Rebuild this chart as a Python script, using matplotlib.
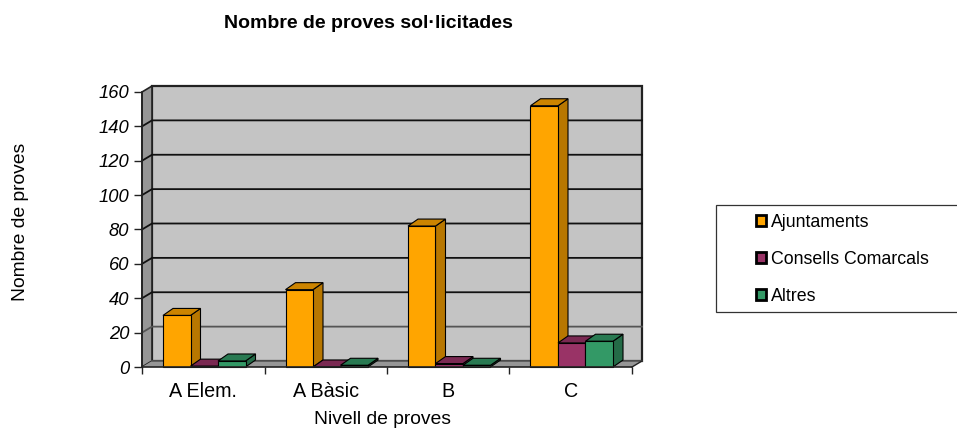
import matplotlib
matplotlib.use('Agg')
import matplotlib.pyplot as plt
from matplotlib.patches import Polygon, Rectangle
import numpy as np

plt.rcParams['font.family'] = ['Liberation Sans', 'DejaVu Sans']

categories = ['A Elem.', 'A Bàsic', 'B', 'C']
ajuntaments = [30, 45, 82, 152]
consells = [0.5, 0, 2, 14]
altres = [3.5, 1, 1, 15]
series_names = ['Ajuntaments', 'Consells Comarcals', 'Altres']
y_ticks = [0, 20, 40, 60, 80, 100, 120, 140, 160]

W, H = 957, 428
front = ['#ffa500', '#993366', '#339966']
side = ['#b87700', '#6b2447', '#246b47']
top = ['#cc8400', '#7a2952', '#297a52']

fig = plt.figure(figsize=(W / 100, H / 100), dpi=100)
ax = fig.add_axes([142 / W, 1 - 367 / H, 490 / W, 275 / H])
ax.set_xlim(0, 4)
ax.set_ylim(0, 160)
ax.patch.set_visible(False)
for s in ax.spines.values():
    s.set_visible(False)

# depth of the fake 3d, in data units
dx_wall = 10 / 122.5
dy_wall = 6 / (275 / 160)
dx_bar = 10 / 122.5
dy_bar = 7 / (275 / 160)


def poly(pts, color, z, edge='black', lw=1.0):
    ax.add_patch(Polygon(pts, closed=True, facecolor=color, edgecolor=edge,
                         linewidth=lw, zorder=z, clip_on=False))


# walls and floor
poly([(dx_wall, dy_wall), (4 + dx_wall, dy_wall), (4 + dx_wall, 160 + dy_wall), (dx_wall, 160 + dy_wall)],
     '#c4c4c4', 1, edge='#222222', lw=1.6)
poly([(0, 0), (dx_wall, dy_wall), (dx_wall, 160 + dy_wall), (0, 160)], '#969696', 1, edge='#222222', lw=1.2)
poly([(0, 0), (4, 0), (4 + dx_wall, dy_wall), (dx_wall, dy_wall)], '#969696', 1, edge='none')

# gridlines run along the side wall and across the back wall
for v in y_ticks[1:-1]:
    color = '#555555' if v == 20 else '#111111'
    ax.plot([0, dx_wall, 4 + dx_wall], [v, v + dy_wall, v + dy_wall], color=color, lw=1.3,
            zorder=2, clip_on=False)
ax.plot([dx_wall, 4 + dx_wall], [dy_wall, dy_wall], color='#555555', lw=1.2, zorder=2, clip_on=False)
ax.plot([4, 4 + dx_wall], [0, dy_wall], color='#222222', lw=1.0, zorder=2, clip_on=False)
ax.plot([0, 0], [0, 160], color='#222222', lw=1.2, zorder=3, clip_on=False)

# bars
bar_w = 27.5 / 122.5
start = 21 / 122.5
x = np.arange(len(categories))
for j, values in enumerate([ajuntaments, consells, altres]):
    lefts = x + start + j * bar_w
    z = 4 + j
    for left, v in zip(lefts, values):
        r = left + bar_w
        poly([(r, 0), (r + dx_bar, dy_bar), (r + dx_bar, v + dy_bar), (r, v)], side[j], z, lw=0.8)
        poly([(left, v), (r, v), (r + dx_bar, v + dy_bar), (left + dx_bar, v + dy_bar)], top[j], z, lw=0.8)
    ax.bar(lefts, values, width=bar_w, align='edge', color=front[j], edgecolor='black',
           linewidth=0.8, zorder=z + 0.5, clip_on=False)

ax.plot([0, 4], [0, 0], color='#222222', lw=1.2, zorder=8, clip_on=False)

# ticks
ax.set_xticks(np.arange(5))
ax.set_xticklabels([])
ax.set_xticks(x + 0.5, minor=True)
ax.set_xticklabels(categories, minor=True, fontsize=14.2)
ax.tick_params(axis='x', which='minor', length=0, pad=11)
ax.tick_params(axis='x', which='major', length=5, width=1, color='#222222')
ax.set_yticks(y_ticks)
ax.set_yticklabels(y_ticks, fontsize=13.2, style='italic')
ax.tick_params(axis='y', length=6, width=1, color='#222222', pad=3)

fig.text(368 / W, 1 - 23 / H, 'Nombre de proves sol·licitades', ha='center', va='center',
         fontsize=14, fontweight='bold')
fig.text(382 / W, 1 - 419 / H, 'Nivell de proves', ha='center', va='center', fontsize=13.9)
fig.text(21 / W, 1 - 222 / H, 'Nombre de proves', ha='center', va='center', rotation=90, fontsize=13.9)

# legend box runs off the right edge
fig.patches.append(Rectangle((716 / W, 1 - 312 / H), 245 / W, 107 / H, transform=fig.transFigure,
                             facecolor='white', edgecolor='#333333', linewidth=0.9))
handles = [Rectangle((0, 0), 1, 1, facecolor=c, edgecolor='black', linewidth=2.0) for c in front]
leg = fig.legend(handles, series_names, loc='center left', bbox_to_anchor=(756 / W, 1 - 259.5 / H),
                 frameon=False, fontsize=12.8, handlelength=0.55, handleheight=0.55, handletextpad=0.3,
                 labelspacing=1.12, borderpad=0, borderaxespad=0)

fig.savefig('out.png', dpi=100)
plt.close(fig)
